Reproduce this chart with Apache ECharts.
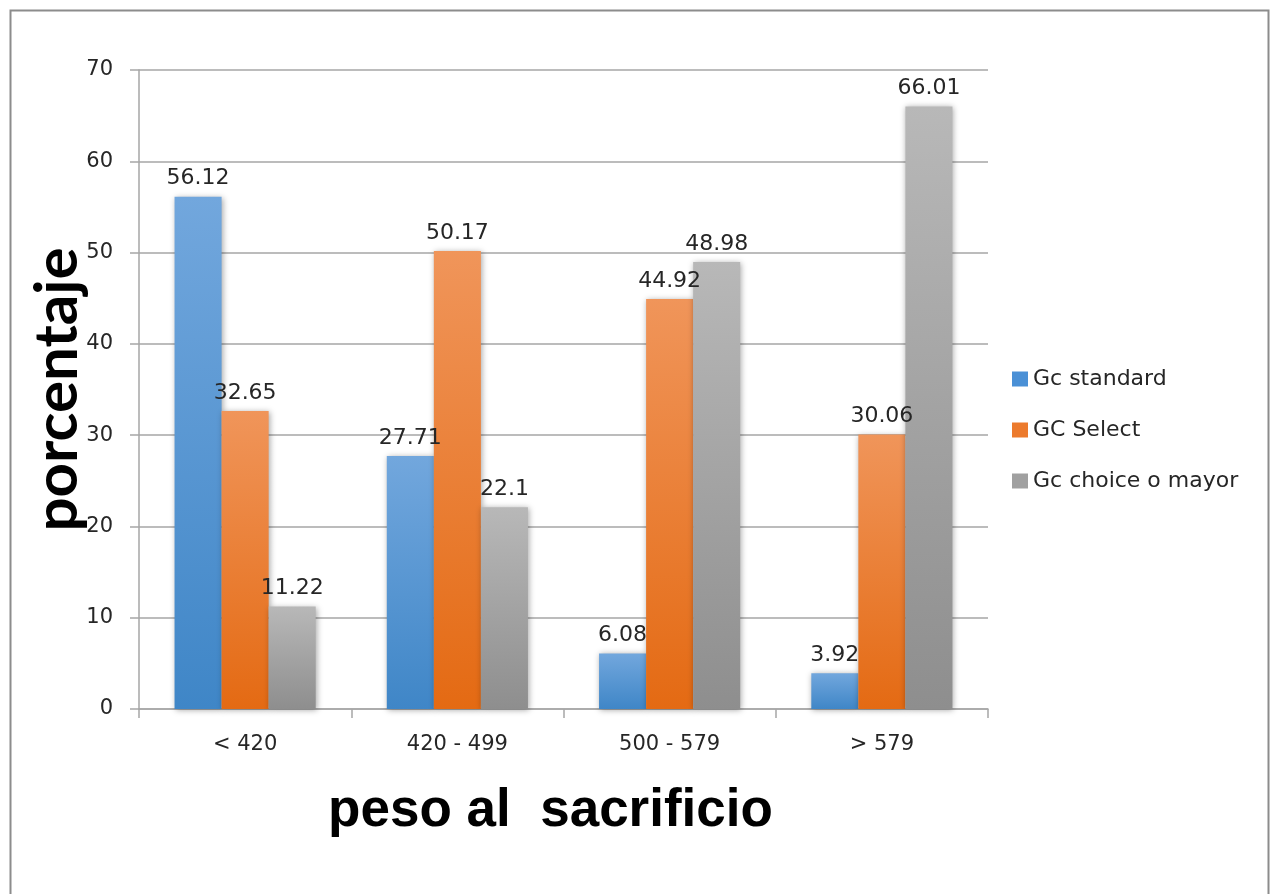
<!DOCTYPE html>
<html>
<head>
<meta charset="utf-8">
<script src="https://cdn.jsdelivr.net/npm/echarts@6/dist/echarts.min.js"></script>
<style>
html,body{margin:0;padding:0;background:#fff;}
#c{width:1272px;height:894px;}
</style>
</head>
<body>
<div id="c"></div>
<script>
const categories = ['< 420', '420 - 499', '500 - 579', '> 579'];
const seriesNames = ['Gc standard', 'GC Select', 'Gc choice o mayor'];
const gcStandard = [56.12, 27.71, 6.08, 3.92];
const gcSelect = [32.65, 50.17, 44.92, 30.06];
const gcChoice = [11.22, 22.1, 48.98, 66.01];
const yTicks = [0, 10, 20, 30, 40, 50, 60, 70];

const colors = [
  ['#72a7dd', '#3f86c7'],
  ['#f0955a', '#e46a13'],
  ['#b8b8b8', '#8e8e8e']
];
const legendColors = ['#4a90d6', '#ec7a2c', '#a0a0a0'];
const dataSets = [gcStandard, gcSelect, gcChoice];
const FONT = 'DejaVu Sans';

const chart = echarts.init(document.getElementById('c'));
const series = dataSets.map((d, i) => ({
  name: seriesNames[i],
  type: 'bar',
  data: d,
  barGap: '0%',
  barCategoryGap: '33.5%',
  itemStyle: {
    color: new echarts.graphic.LinearGradient(0, 0, 0, 1, [
      {offset: 0, color: colors[i][0]},
      {offset: 1, color: colors[i][1]}
    ]),
    shadowColor: 'rgba(0,0,0,0.35)',
    shadowBlur: 6,
    shadowOffsetX: 1,
    shadowOffsetY: 1
  },
  label: {
    show: true,
    position: 'top',
    distance: 7,
    color: '#262626',
    fontFamily: FONT,
    fontSize: 22
  }
}));

chart.setOption({
  animation: false,
  backgroundColor: '#ffffff',
  color: legendColors,
  grid: {left: 139, right: 284, top: 70, bottom: 185},
  legend: {
    orient: 'vertical',
    left: 1007,
    top: 363,
    itemWidth: 16,
    itemHeight: 15,
    itemGap: 29,
    icon: 'rect',
    textStyle: {fontFamily: FONT, fontSize: 22, color: '#262626'},
    data: seriesNames.map((n, i) => ({name: n, itemStyle: {color: legendColors[i]}}))
  },
  xAxis: {
    type: 'category',
    data: categories,
    axisLine: {lineStyle: {color: '#a6a6a6', width: 1.5}},
    axisTick: {show: true, length: 9, lineStyle: {color: '#a6a6a6', width: 1.5}},
    axisLabel: {margin: 25, fontFamily: FONT, fontSize: 21, color: '#262626'},
    name: 'peso al  sacrificio',
    nameLocation: 'middle',
    nameGap: 76,
    nameMoveOverlap: false,
    nameTextStyle: {fontFamily: 'Liberation Sans', fontWeight: 'bold', fontSize: 53, color: '#000', padding: [0, 26, 0, 0]}
  },
  yAxis: {
    type: 'value',
    min: yTicks[0],
    max: yTicks[yTicks.length - 1],
    interval: 10,
    axisLine: {show: true, lineStyle: {color: '#a6a6a6', width: 1.5}},
    axisTick: {show: true, length: 9, lineStyle: {color: '#a6a6a6', width: 1.5}},
    splitLine: {lineStyle: {color: '#a6a6a6', width: 1.5}},
    axisLabel: {margin: 26, fontFamily: FONT, fontSize: 21, color: '#262626'},
    name: 'porcentaje',
    nameLocation: 'middle',
    nameGap: 51,
    nameMoveOverlap: false,
    nameRotate: 90,
    nameTextStyle: {fontFamily: 'Lato', fontWeight: 'bold', fontSize: 60, color: '#000'}
  },
  graphic: [{
    type: 'rect',
    left: 8, top: 8,
    shape: {width: 1258, height: 900},
    style: {fill: 'none', stroke: '#8c8c8c', lineWidth: 2},
    silent: true
  }],
  series: series
});
</script>
</body>
</html>
